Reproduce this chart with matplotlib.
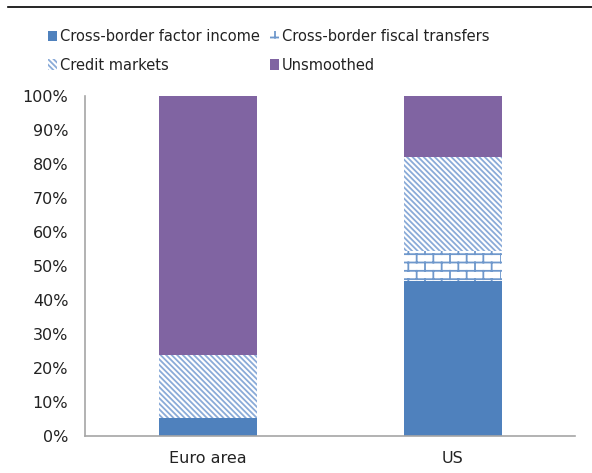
import warnings
import numpy as np
import matplotlib
matplotlib.use("Agg")
import matplotlib.pyplot as plt
import matplotlib.hatch as mhatch
from matplotlib.path import Path
from matplotlib.lines import Line2D

warnings.filterwarnings("ignore")

categories = ["Euro area", "US"]
series_names = ["Cross-border factor income", "Cross-border fiscal transfers",
                "Credit markets", "Unsmoothed"]
factor_income = [5.4, 45.7]
fiscal_transfers = [0.0, 8.7]
credit_markets = [18.4, 27.6]
unsmoothed = [76.2, 18.0]
y_ticks = [0, 10, 20, 30, 40, 50, 60, 70, 80, 90, 100]


class BrickHatch(mhatch.HatchPatternBase):
    """Brick pattern triggered by the 'b' hatch character."""
    rows = 12
    cols = 6

    def __init__(self, hatch, density):
        self.on = hatch.count('b') > 0
        n_h = self.rows
        n_v = self.rows * self.cols
        self.num_vertices = (n_h + n_v) * 2 if self.on else 0

    def set_vertices_and_codes(self, vertices, codes):
        r, c = self.rows, self.cols
        i = 0
        for k in range(r):
            y = (k + 0.5) / r
            vertices[i] = (0.0, y); vertices[i + 1] = (1.0, y)
            codes[i] = Path.MOVETO; codes[i + 1] = Path.LINETO
            i += 2
        for k in range(r):
            y0 = (k + 0.5) / r
            y1 = (k + 1.5) / r
            off = 0.5 if k % 2 else 0.0
            for j in range(c):
                x = (j + off) / c
                vertices[i] = (x, y0); vertices[i + 1] = (x, y1)
                codes[i] = Path.MOVETO; codes[i + 1] = Path.LINETO
                i += 2


mhatch._hatch_types.append(BrickHatch)

plt.rcParams['font.family'] = ['DejaVu Sans']
plt.rcParams['hatch.linewidth'] = 1.3
plt.rcParams['hatch.color'] = '#4F81BD'

fig = plt.figure(figsize=(5.92, 4.73), dpi=100)
ax = fig.add_axes([85 / 592, 1 - 436 / 473, 490 / 592, 340 / 473])

x = np.arange(len(categories))
w = 0.4
b1 = ax.bar(x, factor_income, w, color='#4F81BD', label=series_names[0], linewidth=0)
bottom = np.array(factor_income)
b2 = ax.bar(x, fiscal_transfers, w, bottom=bottom, facecolor='white',
            edgecolor='#6F98CC', hatch='b', linewidth=0, label=series_names[1])
bottom = bottom + np.array(fiscal_transfers)
b3 = ax.bar(x, credit_markets, w, bottom=bottom, facecolor='white',
            edgecolor='#8AABD8', hatch='\\' * 6, linewidth=0, label=series_names[2])
bottom = bottom + np.array(credit_markets)
b4 = ax.bar(x, unsmoothed, w, bottom=bottom, color='#8064A2', linewidth=0,
            label=series_names[3])

ax.set_xlim(-0.5, 1.5)
ax.set_ylim(0, 100)
ax.set_yticks(y_ticks)
ax.set_yticklabels([f"{t}%" for t in y_ticks])
ax.set_xticks(x)
ax.set_xticklabels(categories)
ax.tick_params(axis='y', length=0, pad=12, labelsize=11.5, colors='#222222')
ax.tick_params(axis='x', length=0, pad=11, labelsize=11.5, colors='#222222')
for s in ['top', 'right']:
    ax.spines[s].set_visible(False)
for s in ['left', 'bottom']:
    ax.spines[s].set_color('#A6A6A6')
    ax.spines[s].set_linewidth(1.2)

# column-major fill: col1 = factor income, credit; col2 = fiscal, unsmoothed
handles = [b1, b3, b2, b4]
labels = [series_names[0], series_names[2], series_names[1], series_names[3]]
leg = fig.legend(handles, labels, ncol=2, loc='upper left',
                 bbox_to_anchor=(42 / 592, 1 - 23 / 473), frameon=False,
                 fontsize=10.5, handlelength=0.65, handleheight=0.7,
                 handletextpad=0.2, columnspacing=0.65, labelspacing=0.95,
                 borderaxespad=0)
for t in leg.get_texts():
    t.set_color('#222222')

fig.add_artist(Line2D([8 / 592, 1.0], [1 - 7 / 473, 1 - 7 / 473],
                      color='black', linewidth=1.2, transform=fig.transFigure))

fig.savefig('out.png', dpi=100)
